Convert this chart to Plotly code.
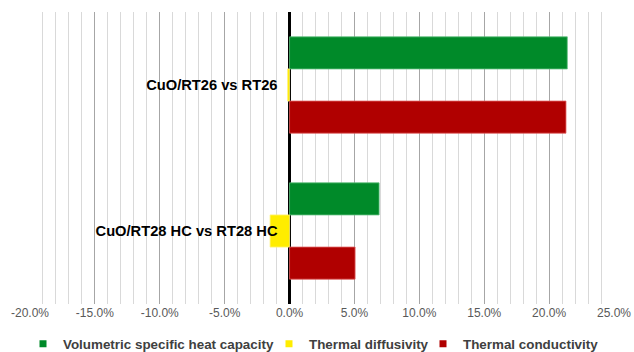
import plotly.graph_objects as go

categories = ["CuO/RT26 vs RT26", "CuO/RT28 HC vs RT28 HC"]
series_names = ["Volumetric specific heat capacity", "Thermal diffusivity", "Thermal conductivity"]
heat_capacity = [0.214, 0.069]
diffusivity = [-0.0015, -0.015]
conductivity = [0.213, 0.0505]
series_values = [heat_capacity, diffusivity, conductivity]
colors = ["#008A29", "#FFED00", "#B00000"]
outline = ["#5FBF7F", "#FFF27A", "#E06060"]
x_ticks = [-0.20, -0.15, -0.10, -0.05, 0.0, 0.05, 0.10, 0.15, 0.20, 0.25]
x_ticktext = [f"{v * 100:.1f}%" for v in x_ticks]

W, H = 634, 352
ML, MR, MT, MB = 30, 20, 12, 48
plot_w = W - ML - MR
plot_h = H - MT - MB

fig = go.Figure()
for name, vals, c, oc in zip(series_names, series_values, colors, outline):
    fig.add_trace(go.Bar(
        y=categories, x=vals, name=name, orientation="h",
        marker=dict(color=c, line=dict(color=oc, width=0.8)),
        showlegend=False,
    ))

legend_ids = ["legend", "legend2", "legend3"]
# left pixel edge of each legend box
legend_left_px = [23, 269, 423]
for name, c, lid in zip(series_names, colors, legend_ids):
    fig.add_trace(go.Scatter(
        x=[None], y=[None], mode="markers", name="<b>" + name + "</b>",
        marker=dict(symbol="square", size=7, color=c),
        showlegend=True, legend=lid,
    ))

legend_common = dict(
    orientation="h", yanchor="middle", xanchor="left",
    y=-(344 - (MT + plot_h)) / plot_h,
    font=dict(size=13.4, color="#404040"),
    itemwidth=30, bgcolor="rgba(0,0,0,0)",
)

xmin, xmax = -0.20, 0.25
layout_legends = {}
for lid, lx in zip(legend_ids, legend_left_px):
    layout_legends[lid] = dict(legend_common, x=(lx - ML) / plot_w)

fig.update_layout(
    width=W, height=H,
    margin=dict(l=ML, r=MR, t=MT, b=MB, autoexpand=False),
    plot_bgcolor="white", paper_bgcolor="white",
    barmode="group", bargap=0.34, bargroupgap=0,
    font=dict(family="Liberation Sans, Arial, sans-serif"),
    xaxis=dict(
        range=[xmin, xmax], tickvals=x_ticks, ticktext=x_ticktext,
        showgrid=True, gridcolor="#A6A6A6", gridwidth=1,
        minor=dict(dtick=0.01, showgrid=True, gridcolor="#D9D9D9", gridwidth=1, tick0=0),
        zeroline=True, zerolinecolor="black", zerolinewidth=2.5,
        tickfont=dict(size=12, color="#595959"),
        ticks="", showline=False, fixedrange=True, automargin=False,
    ),
    yaxis=dict(
        autorange="reversed", anchor="free",
        position=(0 - xmin) / (xmax - xmin),
        tickvals=categories,
        ticktext=["<b>" + c + "</b>" for c in categories],
        tickfont=dict(size=14.7, color="black", family="Liberation Sans, Arial, sans-serif"),
        ticklabelstandoff=12, automargin=False,
        showgrid=False, showline=False, ticks="",
    ),
    **layout_legends,
)

fig.write_html("out.html", config={"displayModeBar": False},
               post_script="document.body.style.margin='0';")
